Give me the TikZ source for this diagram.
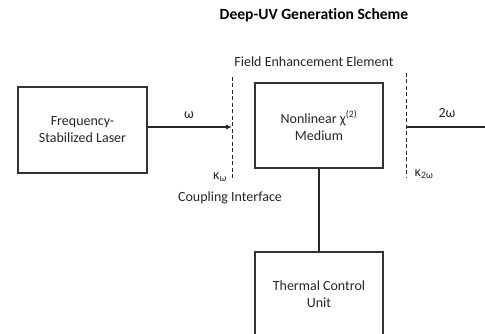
\documentclass[tikz,border=0pt]{standalone}
\usepackage{fontspec}
\setmainfont{Carlito}[Ligatures=NoCommon]
\usetikzlibrary{arrows.meta}
\begin{document}
\begin{tikzpicture}[x=1pt,y=-1pt,
  box/.style={draw=black!80,line width=1.2pt,rectangle,minimum width=128pt,align=center,font=\fontsize{14}{17}\selectfont,inner sep=0pt,text=black!85},
  lbl/.style={font=\fontsize{14}{17}\selectfont,inner sep=0pt,text=black!85},
  dline/.style={draw=black!85,line width=1pt,dash pattern=on 4pt off 2.5pt},
  conn/.style={draw=black!85,line width=1.1pt}]
\useasboundingbox (0,0) rectangle (485,334);
\node[inner sep=0pt,font=\fontsize{15.6}{19}\selectfont\bfseries] (title) at (314,15) {Deep-UV Generation Scheme};
\node[box,minimum width=129pt,minimum height=86pt] (laser) at (82.5,130) {Frequency-\\Stabilized Laser};
\node[box,minimum height=85pt] (nl) at (319,125.5) {Nonlinear χ\textsuperscript{(2)}\\Medium};
\node[box,minimum height=100pt] (th) at (319,302) {};
\node[lbl,align=center] (thl) at (319,294.5) {Thermal Control\\Unit};
\coordinate (d1t) at (232,77);
\coordinate (d1b) at (232,181);
\coordinate (d2t) at (406,73);
\coordinate (d2b) at (406,178);
\coordinate (in1) at (232,127);
\coordinate (out2) at (491,127);
\draw[dline] (d1t) -- (d1b);
\draw[dline] (d2t) -- (d2b);
\draw[conn,-{Latex[length=6pt,width=5pt]}] (laser.east |- in1) -- (in1);
\draw[conn,-{Latex[length=6pt,width=5pt]}] (d2t |- in1) -- (out2);
\draw[conn] (nl.south) -- (th.north);
\node[lbl] (w) at (189,115) {ω};
\node[lbl] (w2) at (447,113) {2ω};
\node[lbl] (k1) at (220,177) {κ\textsubscript{ω}};
\node[lbl] (k2) at (424,174) {κ\textsubscript{2ω}};
\node[lbl] (ci) at (230,198) {Coupling Interface};
\node[lbl] (fe) at (314,62) {Field Enhancement Element};
\end{tikzpicture}
\end{document}
